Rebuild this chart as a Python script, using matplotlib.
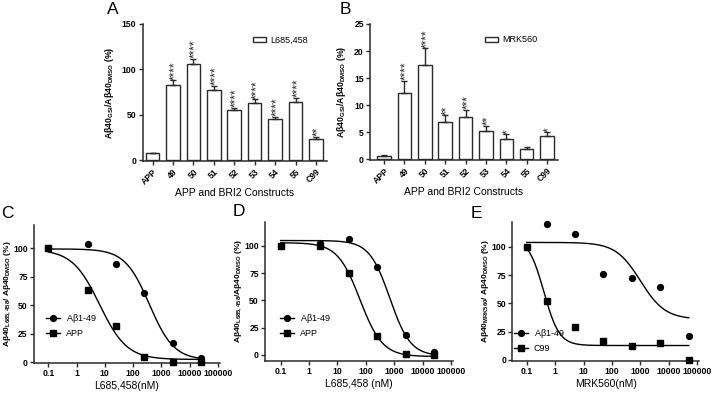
import numpy as np
import matplotlib
matplotlib.use('Agg')
import matplotlib.pyplot as plt
import matplotlib.transforms as mtransforms
from matplotlib.patches import Patch
from matplotlib.lines import Line2D

plt.rcParams['font.family'] = ['Liberation Sans', 'DejaVu Sans']
plt.rcParams['mathtext.fontset'] = 'custom'
plt.rcParams['mathtext.rm'] = 'Liberation Sans'
plt.rcParams['mathtext.it'] = 'Liberation Sans'
plt.rcParams['mathtext.bf'] = 'Liberation Sans:bold'
plt.rcParams['mathtext.default'] = 'regular'

# ---------------- data ----------------
constructs = ['APP', '49', '50', '51', '52', '53', '54', '55', 'C99']
a_vals = [7.7, 82.7, 105.5, 77.2, 55.1, 62.5, 44.9, 64.0, 23.9]
a_err = [0.4, 5.3, 6.3, 4.4, 2.9, 4.4, 2.9, 4.4, 1.8]
a_stars = ['', '****', '****', '****', '****', '****', '****', '****', '**']
b_vals = [0.6, 12.3, 17.5, 6.9, 7.8, 5.2, 3.8, 1.85, 4.25]
b_err = [0.1, 2.2, 3.0, 1.2, 1.3, 1.0, 0.8, 0.35, 0.75]
b_stars = ['', '****', '****', '**', '***', '**', '*', '', '*']

c_conc = [0.1, 2.5, 25, 250, 2500, 25000]
c_ab149 = [100, 103.8, 85.9, 61.2, 16.8, 3.5]
c_app = [100, 63.8, 32.0, 4.7, 0.0, 0.6]
c_fit_ab149 = [99.5, 2.0, 380, 1.0]   # top, bottom, IC50, hill
c_fit_app = [99.0, 2.5, 6.5, 0.9]

d_conc = [0.1, 2.5, 25, 250, 2500, 25000]
d_ab149 = [100, 102.5, 106.5, 81.0, 18.3, 3.0]
d_app = [100, 100, 75.0, 17.4, 0.6, 0.0]
d_fit_ab149 = [105.0, -1.0, 700, 1.2]
d_fit_app = [103.0, -1.5, 62, 1.1]

e_conc = [0.1, 0.5, 5, 50, 500, 5000, 50000]
e_ab149 = [100, 120.0, 111.2, 76.1, 72.9, 64.9, 21.2]
e_c99 = [100, 51.9, 29.2, 16.5, 12.4, 14.7, 0.0]
e_fit_ab149 = [104.0, 36.0, 1000, 1.0]
e_fit_c99 = [108.0, 12.8, 0.4, 1.6]

# ---------------- figure ----------------
W, H = 713, 395
fig = plt.figure(figsize=(W / 100, H / 100), dpi=100)
EC = '#2a2a2a'


def add_ax(x0, y0, x1, y1):
    return fig.add_axes([x0 / W, 1 - y1 / H, (x1 - x0) / W, (y1 - y0) / H])


def style(ax):
    for s in ['top', 'right']:
        ax.spines[s].set_visible(False)
    for s in ['left', 'bottom']:
        ax.spines[s].set_linewidth(1.1)
        ax.spines[s].set_color(EC)
    ax.tick_params(direction='out', length=3, width=1.0, color=EC, labelsize=6.2, pad=1.5)
    for lab in ax.get_xticklabels() + ax.get_yticklabels():
        lab.set_fontweight('bold')


def bar_panel(ax, vals, errs, stars, ymax, yticks, ylab, leg_label, leg_xy, xleft):
    x = np.arange(len(constructs))
    ax.bar(x, vals, width=0.66, color='white', edgecolor=EC, linewidth=1.0, zorder=2)
    ax.errorbar(x, vals, yerr=[np.zeros(len(vals)), errs], fmt='none', ecolor=EC,
                elinewidth=1.0, capsize=2.5, capthick=1.0, zorder=3)
    star_tr = mtransforms.offset_copy(ax.transData, fig=fig, x=1.6, y=0.5, units='points')
    for xi, v, e, s in zip(x, vals, errs, stars):
        if s:
            ax.text(xi, v + e, s, rotation=90, ha='center', va='bottom',
                    fontsize=8.5, color=EC, transform=star_tr)
    ax.set_xlim(xleft, 8.54)
    ax.set_ylim(-ymax * 0.0055, ymax)
    ax.set_yticks(yticks)
    ax.set_xticks(x)
    ax.set_xticklabels(constructs, rotation=45, ha='right', rotation_mode='anchor')
    style(ax)
    ax.set_xlabel('APP and BRI2 Constructs', fontsize=7.5, labelpad=1)
    ax.set_ylabel(ylab, fontsize=6.3, fontweight='bold', labelpad=4)
    ax.legend(handles=[Patch(facecolor='white', edgecolor=EC, linewidth=1.0, label=leg_label)],
              loc='center left', bbox_to_anchor=leg_xy, bbox_transform=fig.transFigure,
              frameon=False, fontsize=6.5, handlelength=1.45, handleheight=0.55,
              handletextpad=0.45, borderpad=0, borderaxespad=0)


def logistic(x, p):
    top, bottom, ic50, hill = p
    return bottom + (top - bottom) / (1 + (x / ic50) ** hill)


def curve_panel(ax, conc, s1, s2, p1, p2, lab1, lab2, xlab, ylab, xlim, ylim, leg_xy, ylab_x):
    conc = np.asarray(conc, float)
    xx = np.logspace(np.log10(conc.min()), np.log10(conc.max()), 300)
    ax.plot(xx, logistic(xx, p1), color='black', lw=1.0, zorder=2)
    ax.plot(xx, logistic(xx, p2), color='black', lw=1.0, zorder=2)
    ax.plot(conc, s1, 'o', color='black', ms=4.2, zorder=3, clip_on=False)
    ax.plot(conc, s2, 's', color='black', ms=4.2, zorder=4, clip_on=False)
    ax.set_xscale('log')
    ax.set_xlim(*xlim)
    ax.set_ylim(*ylim)
    ticks = [0.1, 1, 10, 100, 1000, 10000, 100000]
    ax.set_xticks(ticks)
    ax.set_xticklabels(['0.1', '1', '10', '100', '1000', '10000', '100000'])
    ax.xaxis.set_minor_locator(matplotlib.ticker.NullLocator())
    ax.set_yticks([0, 25, 50, 75, 100])
    style(ax)
    ax.set_xlabel(xlab, fontsize=7.5, labelpad=2)
    ax.set_ylabel(ylab, fontsize=6.0, fontweight='bold')
    # place label's right edge at given figure pixel x
    bb = ax.get_position()
    ax.yaxis.set_label_coords((ylab_x / W - bb.x0) / bb.width, 0.5)
    h1 = Line2D([], [], color='black', lw=1.0, marker='o', ms=4.2)
    h2 = Line2D([], [], color='black', lw=1.0, marker='s', ms=4.2)
    ax.legend([h1, h2], [lab1, lab2], loc='upper left', bbox_to_anchor=leg_xy,
              bbox_transform=fig.transFigure, frameon=False, fontsize=6.5,
              handlelength=1.6, handletextpad=0.6, labelspacing=0.45,
              borderpad=0, borderaxespad=0)


# Panel A
axA = add_ax(142.5, 24, 327, 161)
bar_panel(axA, a_vals, a_err, a_stars, 150, [0, 50, 100, 150],
          r'A$\beta$40$_{GSI}$/A$\beta$40$_{DMSO}$ (%)', 'L685,458',
          (253 / W, 1 - 40 / H), -0.49)

# Panel B
axB = add_ax(370, 24, 558, 160)
bar_panel(axB, b_vals, b_err, b_stars, 25, [0, 5, 10, 15, 20, 25],
          r'A$\beta$40$_{GSI}$/A$\beta$40$_{DMSO}$ (%)', 'MRK560',
          (485 / W, 1 - 40 / H), -0.69)

# Panel C
axC = add_ax(34, 225, 220, 362.9)
curve_panel(axC, c_conc, c_ab149, c_app, c_fit_ab149, c_fit_app,
            r'A$\beta$1-49', 'APP', 'L685,458(nM)',
            r'A$\beta$40$_{L685,458}$/ A$\beta$40$_{DMSO}$ (%)',
            (10 ** -1.51, 10 ** 5.08), (-0.5, 120.5), (46 / W, 1 - 312 / H), 13)

# Panel D
axD = add_ax(265, 222, 452.5, 360.7)
curve_panel(axD, d_conc, d_ab149, d_app, d_fit_ab149, d_fit_app,
            r'A$\beta$1-49', 'APP', 'L685,458 (nM)',
            r'A$\beta$40$_{L685,458}$/A$\beta$40$_{DMSO}$ (%)',
            (10 ** -1.553, 10 ** 5.05), (-5.3, 122), (280 / W, 1 - 312 / H), 244)

# Panel E
axE = add_ax(512.3, 221.5, 699, 361)
curve_panel(axE, e_conc, e_ab149, e_c99, e_fit_ab149, e_fit_c99,
            r'A$\beta$1-49', 'C99', 'MRK560(nM)',
            r'A$\beta$40$_{MRK560}$/ A$\beta$40$_{DMSO}$ (%)',
            (10 ** -1.507, 10 ** 5.06), (-0.9, 122.5), (514 / W, 1 - 327 / H), 491)

# Panel letters
for letter, x, y in [('A', 107, 2), ('B', 340, 2), ('C', 1, 206), ('D', 233, 204), ('E', 471, 206)]:
    fig.text(x / W, 1 - y / H, letter, fontsize=12.5, ha='left', va='top')

fig.savefig('out.png', dpi=100)
